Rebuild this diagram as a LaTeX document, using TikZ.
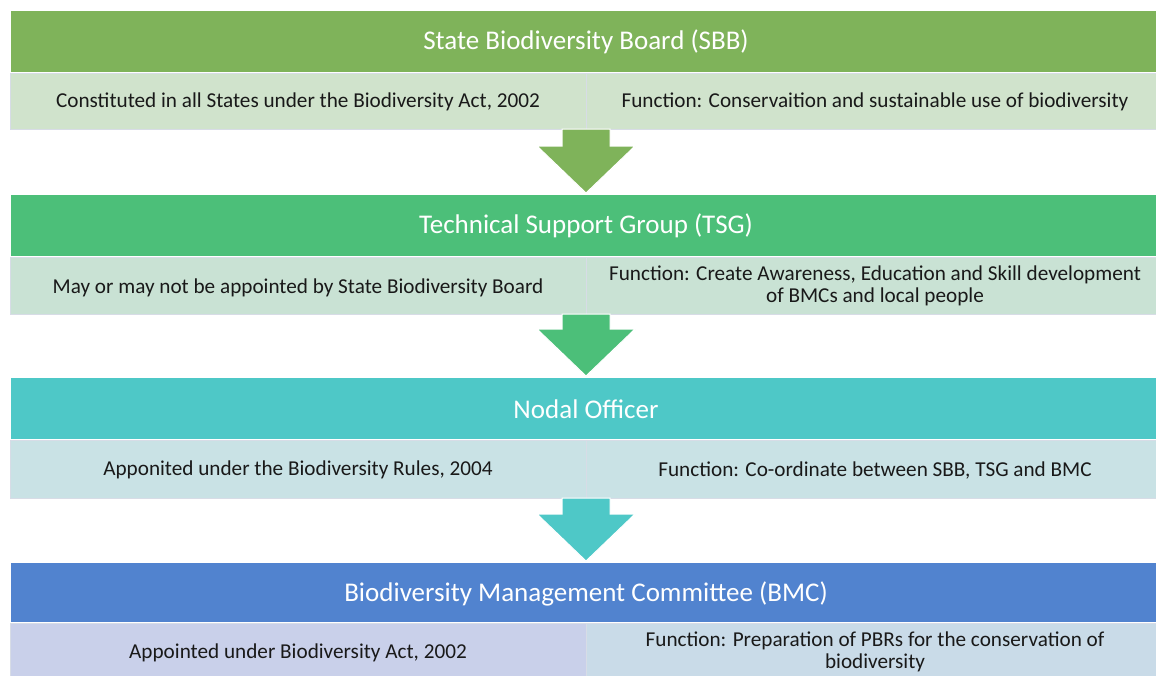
\documentclass[tikz,border=0pt]{standalone}
\usepackage{fontspec}
\setmainfont{Carlito}
\usetikzlibrary{calc}
\definecolor{hdrA}{RGB}{127,179,90}
\definecolor{hdrB}{RGB}{76,191,121}
\definecolor{hdrC}{RGB}{78,200,199}
\definecolor{hdrD}{RGB}{81,131,207}
\definecolor{rowA}{RGB}{208,227,204}
\definecolor{rowB}{RGB}{201,226,212}
\definecolor{rowC}{RGB}{201,226,229}
\definecolor{rowDl}{RGB}{201,208,234}
\definecolor{rowDr}{RGB}{201,219,232}
\definecolor{txt}{RGB}{25,25,25}
\definecolor{edge}{RGB}{215,220,230}
\tikzset{
  hdr/.style={draw=white, line width=0.8pt, text=white, font=\fontsize{27}{30}\selectfont},
  cell/.style={draw=edge, line width=0.8pt, text=txt, align=center,
               font=\fontsize{21.2}{21.5}\selectfont},
  flow/.style={draw=white, line width=1pt},
}
\begin{document}
\begin{tikzpicture}[x=1pt,y=-1pt]
\useasboundingbox (0,0) rectangle (1156,675);
\fill[white] (0,0) rectangle (1156,675);

% ---- level 1
\filldraw[hdr, fill=hdrA] (10,10) rectangle (1160,72);
\node[hdr, draw=none] (sbb) at (586,42) {State Biodiversity Board (SBB)};
\filldraw[cell, fill=rowA] (10,73) rectangle (586,129);
\filldraw[cell, fill=rowA] (586,73) rectangle (1160,129);
\node[cell, draw=none] (sbbL) at (298,102) {Constituted in all States under the Biodiversity Act, 2002};
\node[cell, draw=none] (sbbR) at (875,102) {Function: Conservaition and sustainable use of biodiversity};
\coordinate (o1) at (586,129);

% ---- level 2
\filldraw[hdr, fill=hdrB] (10,194) rectangle (1160,256);
\node[hdr, draw=none] (tsg) at (586,226) {Technical Support Group (TSG)};
\filldraw[cell, fill=rowB] (10,257) rectangle (586,314);
\filldraw[cell, fill=rowB] (586,257) rectangle (1160,314);
\node[cell, draw=none] (tsgL) at (298,288) {May or may not be appointed by State Biodiversity Board};
\node[cell, draw=none] (tsgR) at (875,286) {Function: Create Awareness, Education and Skill development\\of BMCs and local people};
\coordinate (i2) at (586,193);
\coordinate (o2) at (586,314);

% ---- level 3
\filldraw[hdr, fill=hdrC] (10,377) rectangle (1160,439);
\node[hdr, draw=none] (nodal) at (586,409) {Nodal Officer};
\filldraw[cell, fill=rowC] (10,440) rectangle (586,498);
\filldraw[cell, fill=rowC] (586,440) rectangle (1160,498);
\node[cell, draw=none] (nodalL) at (298,470) {Apponited under the Biodiversity Rules, 2004};
\node[cell, draw=none] (nodalR) at (875,470) {Function: Co-ordinate between SBB, TSG and BMC};
\coordinate (i3) at (586,376);
\coordinate (o3) at (586,498);

% ---- level 4
\filldraw[hdr, fill=hdrD] (10,562) rectangle (1160,622);
\node[hdr, draw=none] (bmc) at (586,594) {Biodiversity Management Committee (BMC)};
\filldraw[cell, fill=rowDl] (10,623) rectangle (586,680);
\filldraw[cell, fill=rowDr] (586,623) rectangle (1160,680);
\node[cell, draw=none] (bmcL) at (298,653) {Appointed under Biodiversity Act, 2002};
\node[cell, draw=none] (bmcR) at (875,652) {Function: Preparation of PBRs for the conservation of\\biodiversity};
\coordinate (i4) at (586,561);

% ---- block arrows between levels
\foreach \s/\e/\c in {o1/i2/hdrA, o2/i3/hdrB, o3/i4/hdrC}{
  \filldraw[flow, fill=\c]
    ($(\s)+(-24,0)$) -- ($(\s)+(24,0)$) -- ($(\e)+(24,-47)$) -- ($(\e)+(49,-47)$)
    -- (\e) -- ($(\e)+(-49,-47)$) -- ($(\e)+(-24,-47)$) -- cycle;
}
\end{tikzpicture}
\end{document}
